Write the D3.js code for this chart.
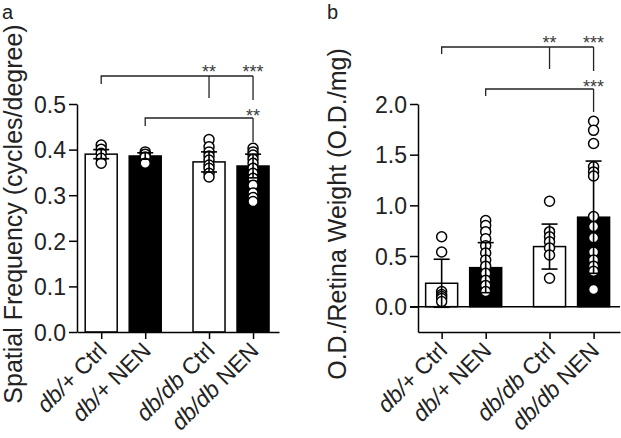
<!DOCTYPE html>
<html>
<head>
<meta charset="utf-8">
<script src="https://cdn.jsdelivr.net/npm/d3@7"></script>
<style>
  html, body { margin: 0; padding: 0; background: #fff; }
  svg { display: block; font-family: "Liberation Sans", Arial, Helvetica, sans-serif; }
</style>
</head>
<body>
<svg id="chart" width="621" height="438"></svg>
<script>
// ---- data ----
const genotypes = ["db/+", "db/+", "db/db", "db/db"];
const treatments = ["Ctrl", "NEN", "Ctrl", "NEN"];
const barFills = ["white", "black", "white", "black"];

// panel a: spatial frequency
const sfMean = [0.390, 0.386, 0.373, 0.364];
const sfSD = [0.010, 0.007, 0.022, 0.026];
const sfPoints = [
  [0.410, 0.401, 0.392, 0.381, 0.370],
  [0.395, 0.390, 0.384, 0.370],
  [0.422, 0.406, 0.395, 0.386, 0.377, 0.366, 0.359, 0.348, 0.340],
  [0.403, 0.395, 0.388, 0.379, 0.370, 0.359, 0.348, 0.337, 0.322, 0.305, 0.295, 0.286]
];
const sfTicks = [0.0, 0.1, 0.2, 0.3, 0.4, 0.5];

// panel b: O.D./retina weight
const odMean = [0.231, 0.385, 0.593, 0.883];
const odSD = [0.237, 0.247, 0.222, 0.554];
const odPoints = [
  [0.69, 0.54, 0.15, 0.12, 0.10, 0.08, 0.05],
  [0.85, 0.80, 0.74, 0.67, 0.60, 0.53, 0.46, 0.40, 0.33, 0.26, 0.21, 0.15],
  [1.04, 0.74, 0.69, 0.64, 0.58, 0.51, 0.28],
  [1.83, 1.74, 1.61, 1.38, 1.33, 1.29, 0.89, 0.79, 0.68, 0.54, 0.46, 0.40, 0.35, 0.17]
];
const odTicks = [0.0, 0.5, 1.0, 1.5, 2.0];

// significance brackets
const sigA = [
  { from: 0, to: [2, 3], labels: ["**", "***"], level: 0 },
  { from: 1, to: [3], labels: ["**"], level: 1 }
];
const sigB = [
  { from: 0, to: [2, 3], labels: ["**", "***"], level: 0 },
  { from: 1, to: [3], labels: ["***"], level: 1 }
];

// ---- drawing ----
const svg = d3.select("#chart");
const slot = i => i + (i >= 2 ? 0.45 : 0);
const barW = 32;

function panel(opt) {
  const g = svg.append("g");
  const x = d3.scaleLinear().domain(opt.xDomain).range(opt.xRange);
  const y = d3.scaleLinear().domain(opt.yDomain).range([332, 104]);
  const yBase = y(0);

  g.selectAll("rect.bar").data(opt.mean).join("rect")
    .attr("x", (d, i) => x(slot(i)) - barW / 2)
    .attr("width", barW)
    .attr("y", d => y(d))
    .attr("height", d => yBase - y(d))
    .attr("fill", (d, i) => barFills[i])
    .attr("stroke", "black").attr("stroke-width", 1.5);

  opt.points.forEach((pts, i) => {
    g.selectAll(null).data(pts).join("circle")
      .attr("cx", x(slot(i))).attr("cy", d => y(d)).attr("r", 5)
      .attr("fill", "white").attr("stroke", "black").attr("stroke-width", 1.5);
  });

  opt.mean.forEach((m, i) => {
    const cx = x(slot(i));
    const lo = y(m - opt.sd[i]), hi = y(m + opt.sd[i]);
    const eg = g.append("g").attr("stroke", "black").attr("stroke-width", 1.6).attr("fill", "none");
    eg.append("line").attr("x1", cx).attr("x2", cx).attr("y1", lo).attr("y2", hi);
    eg.append("line").attr("x1", cx - 8).attr("x2", cx + 8).attr("y1", hi).attr("y2", hi);
    eg.append("line").attr("x1", cx - 8).attr("x2", cx + 8).attr("y1", lo).attr("y2", lo);
  });

  if (opt.zeroLine) {
    g.append("line").attr("x1", opt.xRange[0] - 8).attr("x2", opt.xRange[1])
      .attr("y1", yBase).attr("y2", yBase).attr("stroke", "black").attr("stroke-width", 1.5);
  }

  const ya = g.append("g").attr("transform", `translate(${opt.xRange[0]},0)`)
    .call(d3.axisLeft(y).tickValues(opt.ticks).tickFormat(d3.format(".1f")).tickSize(8).tickSizeOuter(0).tickPadding(3));
  ya.selectAll("path, line").attr("stroke", "black").attr("stroke-width", 1.5);
  ya.selectAll("text").attr("font-size", 23).attr("font-family", "Liberation Sans, Arial, sans-serif").attr("fill", "#222").attr("dy", "0.36em");

  const xa = g.append("g").attr("transform", "translate(0,332)")
    .call(d3.axisBottom(x).tickValues([0, 1, 2, 3].map(slot)).tickFormat("").tickSize(7).tickSizeOuter(0));
  xa.selectAll("path, line").attr("stroke", "black").attr("stroke-width", 1.5);

  const lab = g.selectAll("text.xl").data(genotypes).join("text")
    .attr("class", "xl")
    .attr("transform", (d, i) => `translate(${x(slot(i)) + 7},352) rotate(-45)`)
    .attr("text-anchor", "end").attr("font-size", 23).attr("fill", "#222");
  lab.append("tspan").attr("font-style", "italic").text(d => d);
  lab.append("tspan").text((d, i) => " " + treatments[i]);

  g.append("text").attr("transform", `translate(${opt.titleX},214) rotate(-90)`)
    .attr("text-anchor", "middle").attr("font-size", 25).attr("fill", "#222").text(opt.title);

  g.append("text").attr("x", opt.letterX).attr("y", 19).attr("font-size", 20).attr("fill", "#222").text(opt.letter);

  opt.sig.forEach(s => {
    const ly = opt.sigY[s.level];
    const xl = x(slot(s.from));
    const xr = d3.max(s.to, t => x(slot(t)));
    const bg = g.append("g").attr("stroke", "#222").attr("stroke-width", 1.3).attr("fill", "none");
    bg.append("path").attr("d", `M${xl},${ly + opt.leftLeg}V${ly}H${xr}`);
    s.to.forEach((t, k) => {
      const tx = x(slot(t));
      bg.append("line").attr("x1", tx).attr("x2", tx).attr("y1", ly).attr("y2", opt.legEnds[s.level][k]);
      g.append("text").attr("x", tx).attr("y", ly + opt.starDy[s.level])
        .attr("text-anchor", "middle").attr("font-size", 18).attr("fill", "#3a3a3a").text(s.labels[k]);
    });
  });
}

panel({
  xDomain: [-0.55, 4.04], xRange: [77, 279], yDomain: [0, 0.5], ticks: sfTicks,
  mean: sfMean, sd: sfSD, points: sfPoints,
  title: "Spatial Frequency (cycles/degree)", titleX: 22, letter: "a", letterX: 2,
  sig: sigA, sigY: [76, 118], leftLeg: 8, legEnds: [[98, 100], [142]], starDy: [2, 4]
});

panel({
  xDomain: [-0.537, 4.05], xRange: [418, 620], yDomain: [-0.25, 2.0], ticks: odTicks,
  mean: odMean, sd: odSD, points: odPoints, zeroLine: true,
  title: "O.D./Retina Weight (O.D./mg)", titleX: 346, letter: "b", letterX: 327,
  sig: sigB, sigY: [47, 89], leftLeg: 7, legEnds: [[69, 71], [112]], starDy: [2, 4]
});
</script>
</body>
</html>
